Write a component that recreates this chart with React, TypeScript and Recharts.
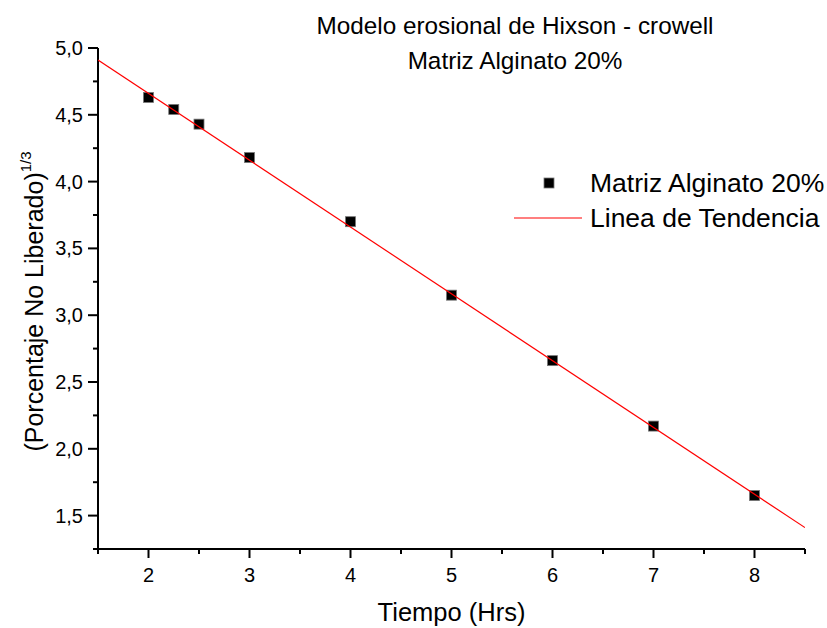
import { ScatterChart, Scatter, XAxis, YAxis, Legend, Label } from 'recharts';

// Hixson-Crowell: cube root of the percentage not yet released vs time
const tiempo = [2, 2.25, 2.5, 3, 4, 5, 6, 7, 8];
const porcentajeRaiz = [4.63, 4.54, 4.43, 4.18, 3.7, 3.15, 2.66, 2.17, 1.65];

// fitted trend line, read at both ends of the x range
const tendenciaX = [1.5, 8.5];
const tendenciaY = [4.91, 1.41];

const xTicks = [1.5, 2, 2.5, 3, 3.5, 4, 4.5, 5, 5.5, 6, 6.5, 7, 7.5, 8, 8.5];
const yTicks = [1.25, 1.5, 1.75, 2, 2.25, 2.5, 2.75, 3, 3.25, 3.5, 3.75, 4, 4.25, 4.5, 4.75, 5];

const titulo = ['Modelo erosional de Hixson - crowell', 'Matriz Alginato 20%'];
const serieNombre = 'Matriz Alginato 20%';
const tendenciaNombre = 'Linea de Tendencia';

const puntos = tiempo.map((x, i) => ({ x, y: porcentajeRaiz[i] }));
const tendencia = tendenciaX.map((x, i) => ({ x, y: tendenciaY[i] }));

const FONT = '"Liberation Sans", Arial, Helvetica, sans-serif';

const XTick = (props: any) => {
  const { x, y, payload } = props;
  const major = Number.isInteger(payload.value);
  return (
    <g>
      <line x1={x} x2={x} y1={y} y2={y + (major ? 9 : 5)} stroke="#000" strokeWidth={2} />
      {major && (
        <text x={x} y={y + 33} textAnchor="middle" fontSize={20} fontFamily={FONT} fill="#000">
          {payload.value}
        </text>
      )}
    </g>
  );
};

const YTick = (props: any) => {
  const { x, y, payload } = props;
  const major = Number.isInteger(payload.value * 2);
  return (
    <g>
      <line x1={x} x2={x - (major ? 10 : 5)} y1={y} y2={y} stroke="#000" strokeWidth={2} />
      {major && (
        <text x={x - 15} y={y + 7} textAnchor="end" fontSize={20} fontFamily={FONT} fill="#000">
          {payload.value.toFixed(1).replace('.', ',')}
        </text>
      )}
    </g>
  );
};

const Cuadro = (props: any) => (
  <rect x={props.cx - 5} y={props.cy - 5} width={10} height={10} fill="#000" stroke="#777" strokeWidth={0.8} />
);

const Nada = () => <g />;

const Leyenda = () => (
  <svg width={322} height={70} style={{ display: 'block' }}>
    <rect x={39} y={13} width={10} height={10} fill="#000" stroke="#777" strokeWidth={0.8} />
    <text x={85} y={27} fontSize={26.5} fontFamily={FONT} fill="#000">
      {serieNombre}
    </text>
    <line x1={9} x2={77} y1={53} y2={53} stroke="#ff0000" strokeWidth={1.2} />
    <text x={85} y={62} fontSize={26.5} fontFamily={FONT} fill="#000">
      {tendenciaNombre}
    </text>
  </svg>
);

export default function App() {
  return (
    <div style={{ position: 'absolute', left: 0, top: 0, width: 827, height: 628, background: '#fff' }}>
      <div
        style={{
          position: 'absolute',
          left: 295,
          width: 440,
          top: 8,
          textAlign: 'center',
          fontFamily: FONT,
          fontSize: 24.3,
          lineHeight: '35px',
          color: '#000',
        }}
      >
        {titulo.map((t) => (
          <div key={t}>{t}</div>
        ))}
      </div>
      <ScatterChart width={827} height={628} margin={{ top: 48, right: 22, bottom: 0, left: 0 }}>
        <XAxis
          type="number"
          dataKey="x"
          domain={[1.5, 8.5]}
          ticks={xTicks}
          interval={0}
          height={79}
          tickSize={0}
          tickMargin={0}
          tickLine={false}
          axisLine={{ stroke: '#000', strokeWidth: 2 }}
          tick={<XTick />}
          allowDataOverflow
        >
          <Label
            content={(p: any) => (
              <text
                x={p.viewBox.x + p.viewBox.width / 2}
                y={p.viewBox.y + 72}
                textAnchor="middle"
                fontSize={25.5}
                fontFamily={FONT}
                fill="#000"
              >
                Tiempo (Hrs)
              </text>
            )}
          />
        </XAxis>
        <YAxis
          type="number"
          dataKey="y"
          domain={[1.25, 5]}
          ticks={yTicks}
          interval={0}
          width={98}
          tickSize={0}
          tickMargin={0}
          tickLine={false}
          axisLine={{ stroke: '#000', strokeWidth: 2 }}
          tick={<YTick />}
          allowDataOverflow
        >
          <Label
            content={(p: any) => {
              const cy = p.viewBox.y + p.viewBox.height / 2 + 3;
              return (
                <text
                  x={43}
                  y={cy}
                  transform={`rotate(-90 43 ${cy})`}
                  textAnchor="middle"
                  fontSize={25}
                  fontFamily={FONT}
                  fill="#000"
                >
                  (Porcentaje No Liberado)
                  <tspan dy={-12} fontSize={15}>
                    1/3
                  </tspan>
                </text>
              );
            }}
          />
        </YAxis>
        <Legend
          layout="vertical"
          align="center"
          verticalAlign="middle"
          content={() => <Leyenda />}
          wrapperStyle={{ position: 'absolute', left: 505, top: 165, width: 322 }}
        />
        <Scatter name={serieNombre} data={puntos} shape={<Cuadro />} isAnimationActive={false} />
        <Scatter
          name={tendenciaNombre}
          data={tendencia}
          line={{ stroke: '#ff0000', strokeWidth: 1.2 }}
          lineType="joint"
          shape={<Nada />}
          isAnimationActive={false}
        />
      </ScatterChart>
    </div>
  );
}
